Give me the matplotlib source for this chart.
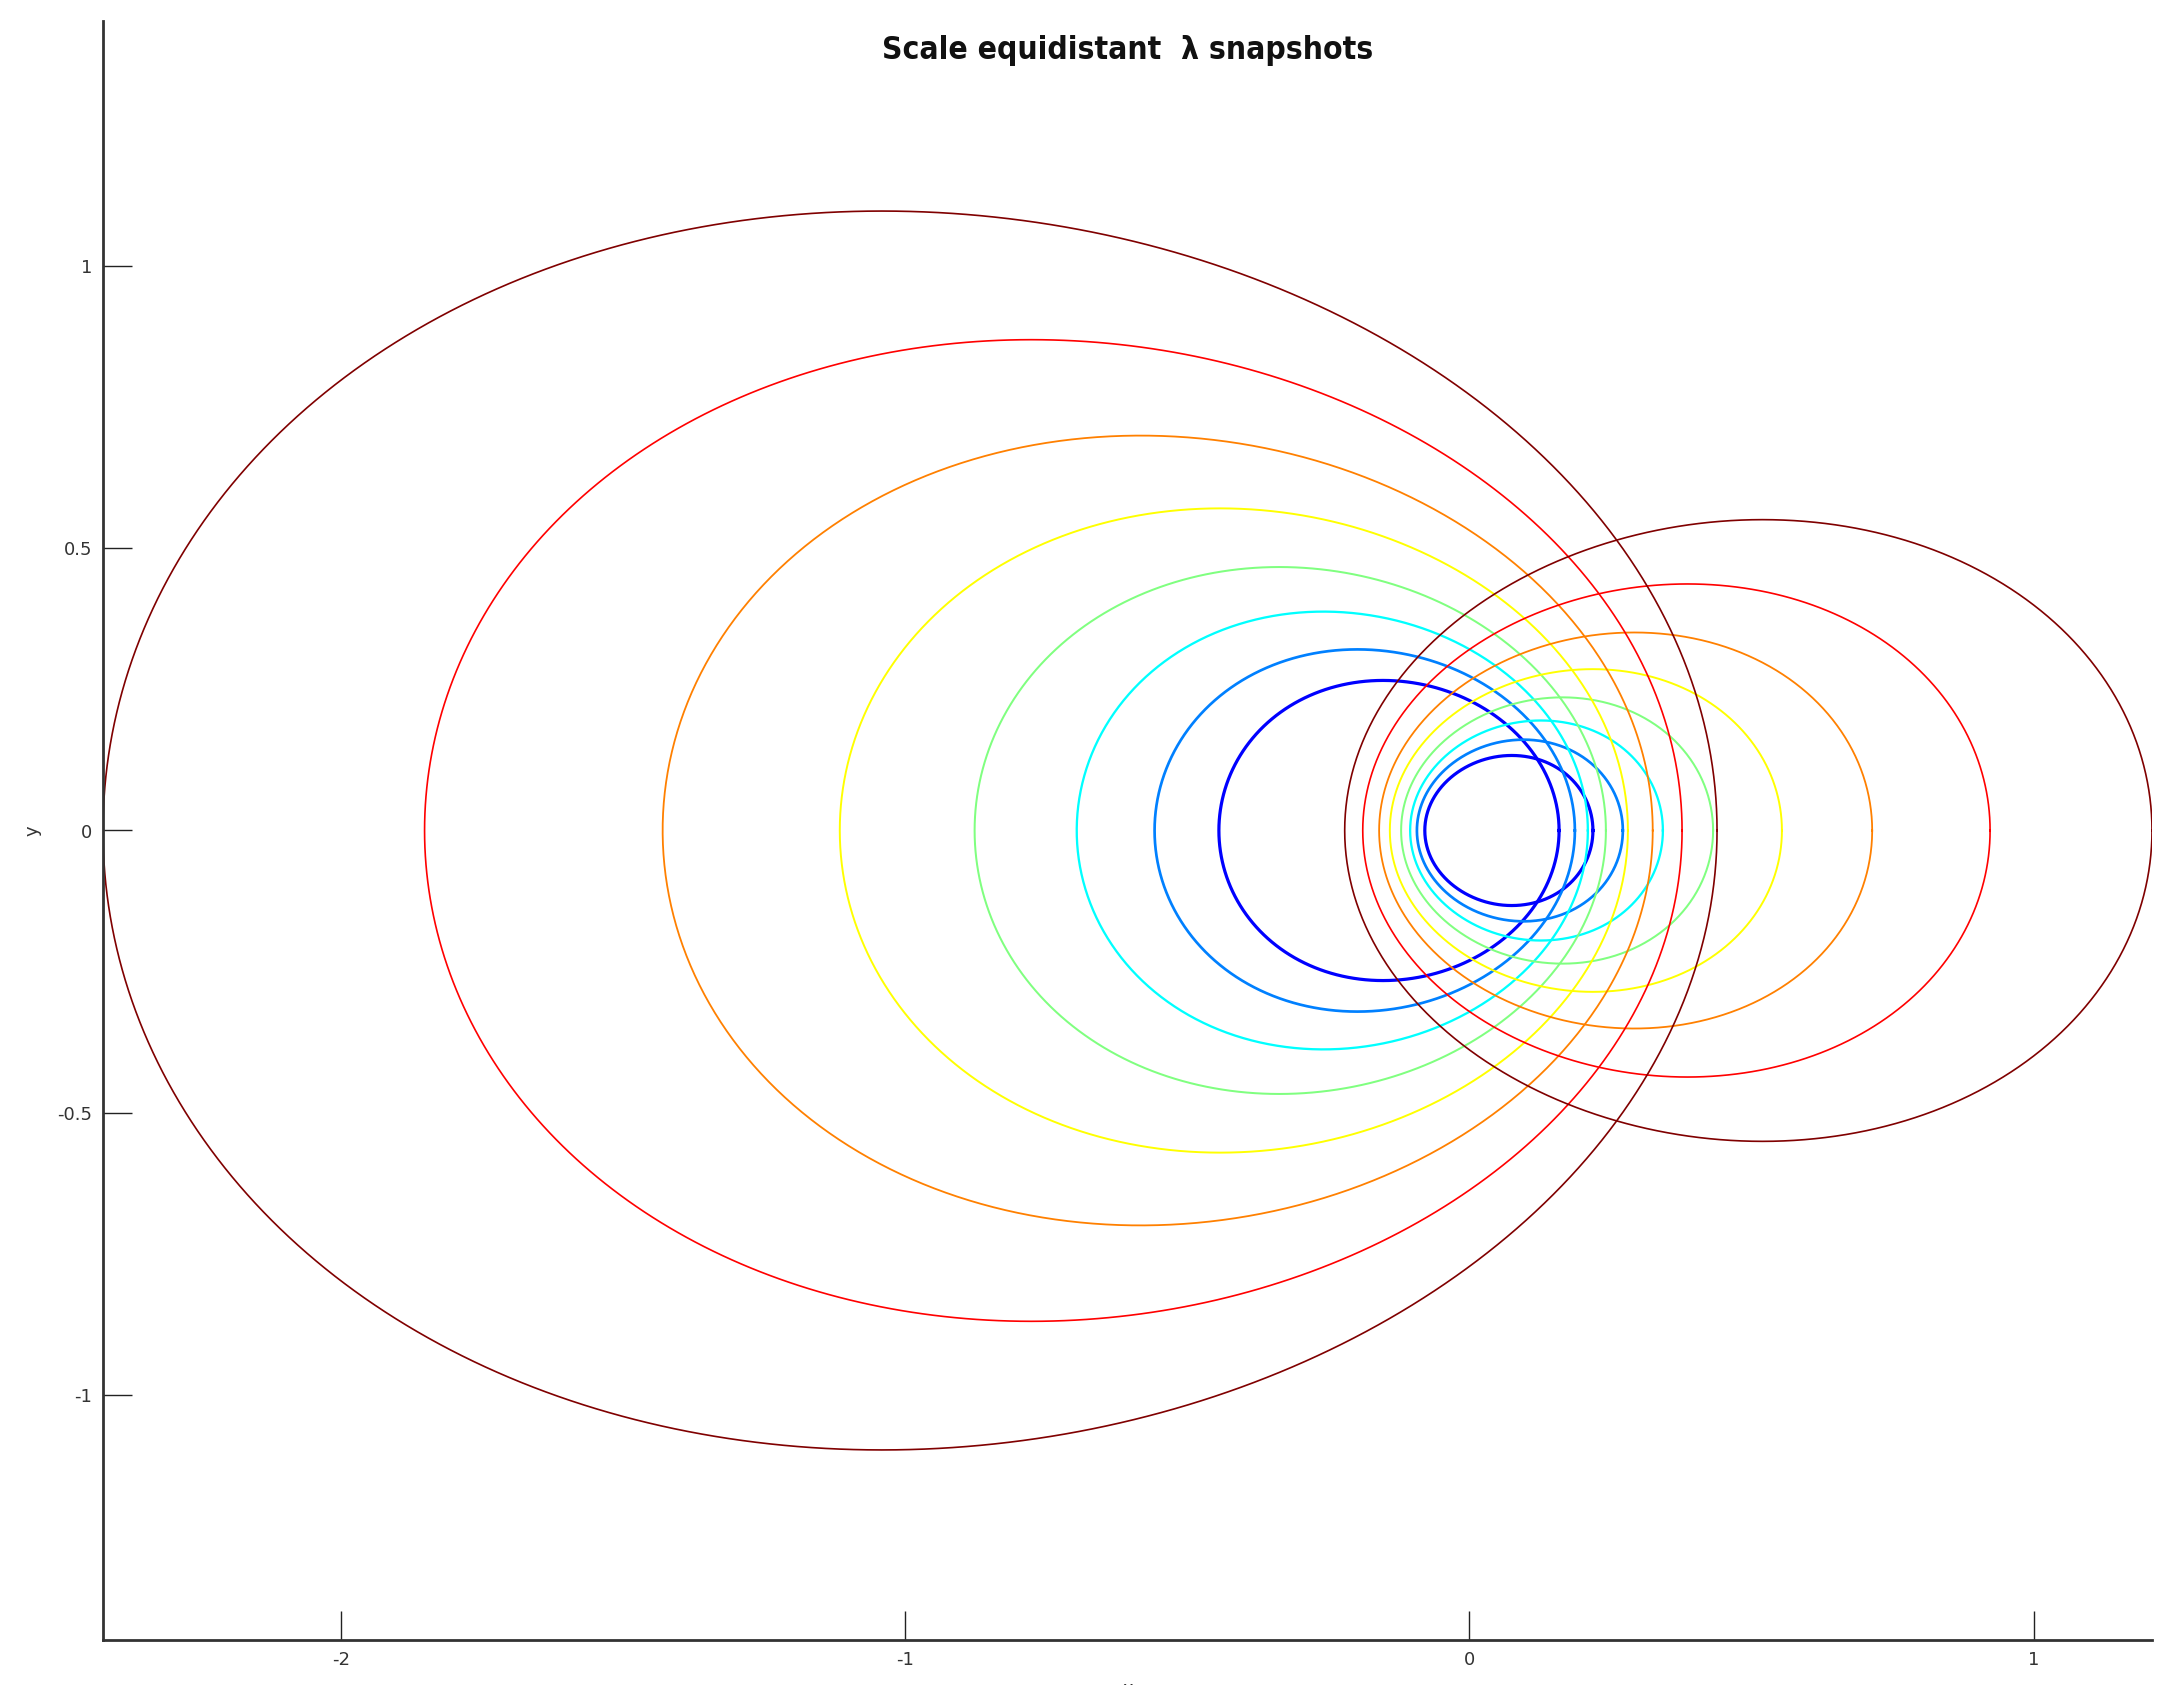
import matplotlib
matplotlib.use("Agg")
import matplotlib.pyplot as plt
from matplotlib import font_manager
import numpy as np

# Snapshots, ordered from smallest lambda (blue) to largest (dark red).
SNAP_COLORS = ["#0000ff", "#0080ff", "#00ffff", "#80ff80",
               "#ffff00", "#ff8000", "#ff0000", "#800000"]

# Left-hand curves: x at y=0 (left, right) and half height
LEFT_XMIN = [-0.444, -0.558, -0.696, -0.877, -1.116, -1.430, -1.852, -2.422]
LEFT_XMAX = [0.159, 0.187, 0.210, 0.242, 0.281, 0.325, 0.377, 0.439]
LEFT_HALF_H = [0.266, 0.321, 0.388, 0.467, 0.571, 0.700, 0.870, 1.098]

# Right-hand curves
RIGHT_XMIN = [-0.079, -0.093, -0.105, -0.121, -0.141, -0.160, -0.189, -0.221]
RIGHT_XMAX = [0.219, 0.272, 0.343, 0.432, 0.554, 0.714, 0.923, 1.210]
RIGHT_HALF_H = [0.133, 0.161, 0.195, 0.236, 0.286, 0.351, 0.437, 0.551]

X_TICKS = [-2, -1, 0, 1]
Y_TICKS = [-1, -0.5, 0, 0.5, 1]
Y_TICKLABELS = ["-1", "-0.5", "0", "0.5", "1"]

TITLE = "Scale equidistant  \u03bb snapshots"

LINE_WIDTHS = [2.3, 1.95, 1.65, 1.45, 1.4, 1.3, 1.2, 1.2]
EGG = 0.035  # top/bottom of the curves sit a little off-centre

W, H, DPI = 2184, 1685, 100
AX_L, AX_R, AX_T, AX_B = 103, 2152, 21, 1640
TITLE_W = 490  # px width of the title (reference is a little narrower, but taller)


def closed_curve(xmin, xmax, half_h, skew):
    t = np.linspace(0, 2 * np.pi, 721)
    c = (xmin + xmax) / 2
    a = (xmax - xmin) / 2
    x = c + a * np.cos(t) + skew * a * np.sin(t) ** 2
    y = half_h * np.sin(t)
    return x, y


def weight_num(w):
    if isinstance(w, int):
        return w
    return {"light": 300, "normal": 400, "regular": 400, "medium": 500,
            "semibold": 600, "demibold": 600, "bold": 700,
            "heavy": 800, "black": 900}.get(str(w).lower(), 400)


def narrow_font():
    # the title is set in a bold condensed face; pick the best one installed
    cands = [f for f in font_manager.fontManager.ttflist
             if "narrow" in f.name.lower() or "condensed" in f.name.lower()
             or str(f.stretch) in ("condensed", "semi-condensed")]
    if not cands:
        return None
    cands.sort(key=lambda f: (abs(weight_num(f.weight) - 700),
                              "italic" in str(f.style) or "oblique" in str(f.style)))
    return cands[0]


fig = plt.figure(figsize=(W / DPI, H / DPI), dpi=DPI)
ax = fig.add_axes([AX_L / W, 1 - AX_B / H, (AX_R - AX_L) / W, (AX_B - AX_T) / H])

for i, col in enumerate(SNAP_COLORS):
    x, y = closed_curve(LEFT_XMIN[i], LEFT_XMAX[i], LEFT_HALF_H[i], -EGG)
    ax.plot(x, y, color=col, lw=LINE_WIDTHS[i])
    x, y = closed_curve(RIGHT_XMIN[i], RIGHT_XMAX[i], RIGHT_HALF_H[i], EGG)
    ax.plot(x, y, color=col, lw=LINE_WIDTHS[i])

x_lo, x_hi = min(LEFT_XMIN), max(RIGHT_XMAX)
ax.set_xlim(x_lo, x_hi)
half_y = (x_hi - x_lo) * (AX_B - AX_T) / (AX_R - AX_L) / 2
ax.set_ylim(-half_y, half_y)

ax.set_xticks(X_TICKS)
ax.set_xticklabels([str(v) for v in X_TICKS])
ax.set_yticks(Y_TICKS)
ax.set_yticklabels(Y_TICKLABELS)
ax.tick_params(direction="in", length=21, width=1.0, color="#222222",
               labelsize=13, labelcolor="#333333", pad=8)

for side in ("top", "right"):
    ax.spines[side].set_visible(False)
for side in ("left", "bottom"):
    ax.spines[side].set_linewidth(2.0)
    ax.spines[side].set_color("#333333")

ax.set_xlabel("x", fontsize=13, color="#333333", labelpad=8)
ax.set_ylabel("y", fontsize=13, color="#333333", labelpad=11)

f = narrow_font()
if f is not None:
    title_font = dict(family=[f.name, "DejaVu Sans"], fontstretch=f.stretch,
                      fontweight=f.weight)
else:
    title_font = dict(family=["DejaVu Sans"], fontweight="bold")
title = fig.text((AX_L + AX_R) / 2 / W, 1 - 50 / H, TITLE,
                 ha="center", va="center", fontsize=30, color="#111111",
                 **title_font)
# shrink the title until it is about as wide as in the reference
renderer = fig.canvas.get_renderer()
width = title.get_window_extent(renderer).width
if width > TITLE_W:
    title.set_fontsize(30 * TITLE_W / width)

fig.savefig("out.png", dpi=DPI, facecolor="white")
